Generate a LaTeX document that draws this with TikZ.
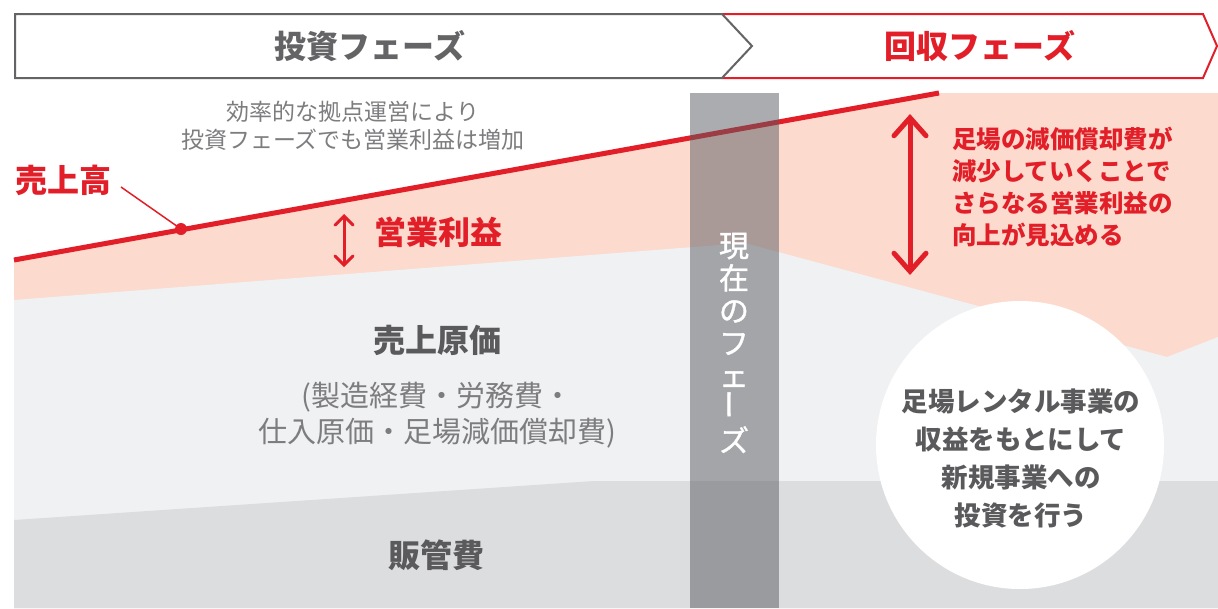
\documentclass[tikz,border=0pt]{standalone}
\usepackage{fontspec}
\setmainfont{Noto Sans CJK JP}
\newfontfamily\jpmed{Noto Sans CJK JP}[FakeBold=1.2]
\usetikzlibrary{arrows.meta}
\definecolor{redc}{RGB}{226,30,40}
\definecolor{pinkc}{RGB}{252,219,206}
\definecolor{lgray}{RGB}{240,241,243}
\definecolor{dgray}{RGB}{220,221,223}
\definecolor{bandc}{RGB}{88,90,97}
\definecolor{txtd}{RGB}{90,90,92}
\definecolor{txtl}{RGB}{125,125,128}
\definecolor{hdrg}{RGB}{100,100,102}
\tikzset{
  lbl/.style={inner sep=0pt, align=center},
  big/.style={lbl, font=\fontsize{32}{36}\selectfont\bfseries},
  dbl/.style={redc, line cap=round},
}
\begin{document}
\begin{tikzpicture}[x=1pt,y=-1pt]
\useasboundingbox (0,0) rectangle (1218,608);
\fill[white] (0,0) rectangle (1218,608);
% banner
\draw[redc, line width=2pt, line join=miter] (722,14) -- (1203,14) -- (1217,46) -- (1203,78) -- (722,78);
\draw[hdrg, line width=2pt, line join=miter] (752,46) -- (722,14) -- (15,14) -- (15,78) -- (722,78) -- cycle;
\node[big, text=hdrg] (ph1) at (370,46) {投資フェーズ};
\node[big, text=redc] (ph2) at (980,46) {回収フェーズ};
% areas
\fill[pinkc] (14,260) -- (939,93) -- (1218,93) -- (1218,608) -- (14,608) -- cycle;
\fill[lgray] (14,300) -- (745,243) -- (1167,357) -- (1218,337) -- (1218,608) -- (14,608) -- cycle;
\fill[dgray] (14,520) -- (594,481) -- (1218,481) -- (1218,608) -- (14,608) -- cycle;
% sales line
\coordinate (s0) at (14,260);
\coordinate (s1) at (939,93);
\draw[redc, line width=5pt] (s0) -- (s1);
% band
\fill[bandc, opacity=0.5] (690,93) rectangle (779,608);
\node[lbl, text=white, font=\fontsize{30}{32.5}\selectfont\jpmed] (now) at (734,343)
  {現\\在\\の\\フ\\ェ\\\rotatebox{90}{ー}\\ズ};
% circle
\node[circle, fill=white, minimum size=288pt, inner sep=0pt] (circ) at (1020,445) {};
\node[lbl, text=txtd, font=\fontsize{26.5}{38}\selectfont\bfseries] (ctext) at (1021,458)
  {足場レンタル事業の\\収益をもとにして\\新規事業への\\投資を行う};
% left labels
\node[lbl, text=txtl, font=\fontsize{23}{28}\selectfont] (note) at (353,126)
  {効率的な拠点運営により\\投資フェーズでも営業利益は増加};
\node[big, text=redc] (uri) at (64,180) {売上高};
\node[circle, fill=redc, minimum size=12pt, inner sep=0pt] (dot) at (181,229) {};
\coordinate (lead) at (121,187);
\draw[redc, line width=1.5pt] (lead) -- (dot.center);
\coordinate (a1) at (344,214);
\coordinate (a2) at (344,267);
\draw[dbl, line width=3pt, {Straight Barb[length=9pt,width=18pt,line cap=round]}-{Straight Barb[length=9pt,width=18pt,line cap=round]}] (a1) -- (a2);
\node[big, text=redc] (op) at (438,232) {営業利益};
\node[big, text=txtd] (cogs) at (437,340) {売上原価};
\node[lbl, text=txtl, font=\fontsize{29}{36}\selectfont] (cogsd) at (437,415)
  {(製造経費・労務費・\\仕入原価・足場減価償却費)};
\node[big, text=txtd] (sga) at (436,555) {販管費};
% right arrow + text
\coordinate (b1) at (910,114);
\coordinate (b2) at (910,275);
\draw[dbl, line width=5pt, {Straight Barb[length=18pt,width=32pt,line cap=round]}-{Straight Barb[length=18pt,width=32pt,line cap=round]}] (b1) -- (b2);
\node[lbl, align=left, anchor=west, text=redc, font=\fontsize{24.5}{32.3}\selectfont\bfseries] (rtext) at (952,187)
  {足場の減価償却費が\\減少していくことで\\さらなる営業利益の\\向上が見込める};
\end{tikzpicture}
\end{document}
